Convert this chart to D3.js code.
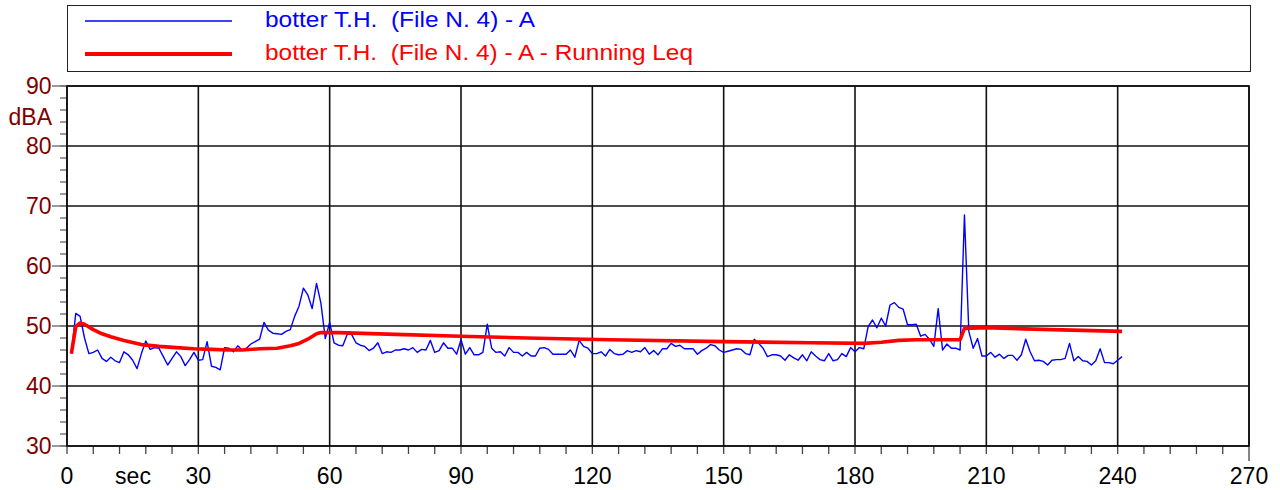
<!DOCTYPE html>
<html><head><meta charset="utf-8">
<script src="https://cdn.jsdelivr.net/npm/d3@7/dist/d3.min.js"></script>
<style>
body{margin:0;background:#fff;}
text{font-family:"Liberation Sans",Arial,sans-serif;}
</style></head><body>
<svg id="c" width="1280" height="490"></svg>
<script>
const seriesNames = ["botter T.H.  (File N. 4) - A", "botter T.H.  (File N. 4) - A - Running Leq"];
// 1-second A-weighted levels, t = 1 .. 241 s
const levelA = [
45.4,52.1,51.6,48.0,45.4,45.6,46.0,44.6,44.1,44.8,
44.2,43.9,45.7,45.2,44.3,42.9,45.4,47.5,46.1,46.4,
46.3,44.9,43.5,44.6,45.7,44.9,43.4,44.4,45.6,44.3,
44.4,47.4,43.3,43.1,42.7,46.4,46.3,45.7,46.7,46.0,
46.3,47.0,47.4,47.8,50.6,49.3,48.8,48.7,48.6,49.1,
49.4,51.6,53.3,56.3,55.2,52.9,57.1,53.8,47.9,50.6,
47.2,46.8,46.7,48.6,48.6,47.2,46.8,46.6,45.9,46.3,
47.2,45.4,45.7,45.6,46.0,46.0,46.2,46.0,46.4,45.6,
46.1,46.0,47.6,45.6,45.9,47.2,46.3,46.3,45.3,47.7,
45.3,46.4,45.2,45.2,45.6,50.3,46.3,45.6,45.7,45.0,
46.4,45.6,45.6,45.0,45.6,45.0,45.0,46.3,46.4,46.1,
45.3,45.3,45.3,45.3,46.0,44.8,47.6,46.6,46.3,45.4,
45.4,45.7,45.0,46.1,45.4,45.2,45.3,45.9,45.6,45.9,
45.7,46.4,45.3,45.9,45.2,46.2,46.2,47.1,46.6,46.8,
46.2,46.2,46.2,45.3,45.9,46.3,46.9,46.7,46.0,45.6,
45.8,46.0,46.2,46.1,45.4,45.2,47.8,47.1,46.3,44.9,
45.2,45.2,45.0,44.3,45.2,44.7,44.3,45.2,44.2,45.7,
45.0,44.4,44.2,45.4,44.2,44.4,45.4,44.9,46.4,45.7,
46.4,46.2,49.9,51.0,49.7,51.3,50.0,53.5,53.9,53.1,
52.8,50.2,50.2,50.3,48.3,48.6,47.8,46.6,52.9,46.0,
47.0,46.3,46.3,46.0,68.5,49.1,46.3,47.9,45.0,45.0,
45.6,44.8,45.3,44.6,45.1,45.1,44.3,45.2,47.8,45.7,
44.2,44.3,44.1,43.5,44.3,44.4,44.4,44.6,47.1,44.2,
44.9,44.2,44.1,43.5,44.2,46.2,43.9,43.9,43.7,44.3,
44.9];
// Running Leq
const leqTimes  = [1,2,3,4,6,8,10,13,17,21,25,29,33,37,40,44,48,51,53,55,57,58,62,75,90,105,124,150,170,182,186,190,194,204,205,210,225,241];
const leqValues = [45.4,49.9,50.5,50.3,49.4,48.7,48.2,47.6,46.9,46.6,46.4,46.2,46.1,46.0,46.0,46.2,46.3,46.7,47.1,47.8,48.7,48.9,48.9,48.6,48.3,48.0,47.7,47.4,47.2,47.1,47.3,47.6,47.7,47.7,49.6,49.7,49.4,49.1];
const xTickLabels = [0,30,60,90,120,150,180,210,240,270];
const yTickLabels = [30,40,50,60,70,80,90];
const xUnit = "sec", yUnit = "dBA";

const svg = d3.select("#c");
const L = 67, R = 1249, T = 86, B = 446;
const x = d3.scaleLinear().domain([0,270]).range([L,R]);
const y = d3.scaleLinear().domain([30,90]).range([B,T]);

// Legend
const lg = svg.append("g");
lg.append("rect").attr("x",67.5).attr("y",5.5).attr("width",1183).attr("height",66)
  .attr("fill","none").attr("stroke","#222").attr("stroke-width",1);
const legCols = ["#0000ff","#ff0000"], legW = [1.5,4], legY = [21,54], legBase = [27,60], legLen = [270,428];
seriesNames.forEach((n,i)=>{
  lg.append("line").attr("x1",85).attr("x2",232).attr("y1",legY[i]).attr("y2",legY[i])
    .attr("stroke",legCols[i]).attr("stroke-width",legW[i]);
  lg.append("text").attr("x",265).attr("y",legBase[i]).attr("fill",legCols[i])
    .attr("font-size",22).attr("xml:space","preserve").style("white-space","pre")
    .attr("textLength",legLen[i]).attr("lengthAdjust","spacingAndGlyphs").text(n);
});

// Minor / major ticks
const gT = svg.append("g");
gT.selectAll("line.ym").data(d3.range(30,91,2)).join("line")
  .attr("x1",60).attr("x2",L).attr("y1",d=>y(d)).attr("y2",d=>y(d))
  .attr("stroke","#666").attr("stroke-width",1.3);
gT.selectAll("line.yM").data(yTickLabels).join("line")
  .attr("x1",52).attr("x2",L).attr("y1",d=>y(d)).attr("y2",d=>y(d))
  .attr("stroke","#777").attr("stroke-width",1.5);
gT.selectAll("line.xm").data(d3.range(0,271,6)).join("line")
  .attr("x1",d=>x(d)).attr("x2",d=>x(d)).attr("y1",B).attr("y2",d=>B+(d===270?15:8))
  .attr("stroke","#444").attr("stroke-width",1.3);

// Grid
const gG = svg.append("g");
gG.selectAll("line.gx").data(xTickLabels).join("line")
  .attr("x1",d=>x(d)).attr("x2",d=>x(d)).attr("y1",T).attr("y2",B)
  .attr("stroke","#111").attr("stroke-width",1.6);
gG.selectAll("line.gy").data(yTickLabels).join("line")
  .attr("x1",L).attr("x2",R).attr("y1",d=>y(d)).attr("y2",d=>y(d))
  .attr("stroke","#111").attr("stroke-width",1.6);
gG.append("rect").attr("x",L).attr("y",T).attr("width",R-L).attr("height",B-T)
  .attr("fill","none").attr("stroke","#111").attr("stroke-width",1.6);

// Labels
svg.append("g").selectAll("text").data(yTickLabels).join("text")
  .attr("x",51.5).attr("y",d=>y(d)).attr("dy","0.35em").attr("text-anchor","end")
  .attr("fill","#800000").attr("font-size",23).text(d=>d);
svg.append("text").attr("x",52).attr("y",125).attr("text-anchor","end")
  .attr("fill","#800000").attr("font-size",23).text(yUnit);
svg.append("g").selectAll("text").data(xTickLabels).join("text")
  .attr("x",d=>x(d)).attr("y",484).attr("text-anchor","middle")
  .attr("fill","#000").attr("font-size",23).text(d=>d);
svg.append("text").attr("x",133).attr("y",484).attr("text-anchor","middle")
  .attr("fill","#000").attr("font-size",23).text(xUnit);

// Series
const blue = levelA.map((v,i)=>({t:i+1,v}));
const red = leqTimes.map((t,i)=>({t,v:leqValues[i]}));
const line = d3.line().x(d=>x(d.t)).y(d=>y(d.v));
svg.append("path").datum(blue).attr("d",line).attr("fill","none")
  .attr("stroke","#0000ff").attr("stroke-width",1.4).attr("stroke-linejoin","round");
svg.append("path").datum(red).attr("d",line).attr("fill","none")
  .attr("stroke","#ff0000").attr("stroke-width",3.6).attr("stroke-linejoin","round");
</script>
</body></html>
